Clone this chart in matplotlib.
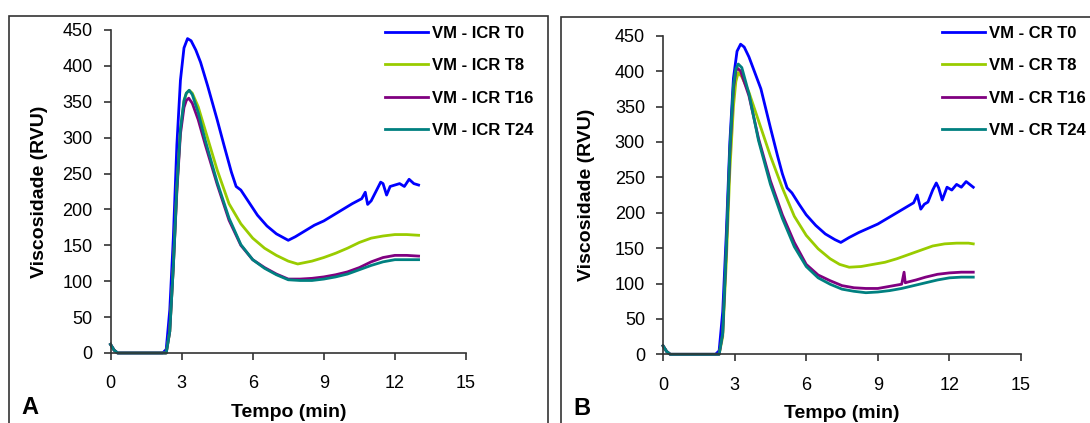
import matplotlib.pyplot as plt
from matplotlib.patches import Rectangle

plt.rcParams['font.family'] = ['Liberation Sans', 'DejaVu Sans']

# tempo (min) e viscosidade (RVU)
# Painel A - ICR
t_a0 = [0, 0.15, 0.3, 2.2, 2.35, 2.5, 2.65, 2.8, 2.95, 3.1, 3.25, 3.4, 3.6, 3.8, 4.1, 4.5, 4.8, 5.1, 5.3, 5.5, 5.8, 6.2, 6.6, 7.0, 7.5, 7.8, 8.2, 8.6, 9.0, 9.4, 9.8, 10.2, 10.6, 10.75, 10.85, 11.0, 11.2, 11.4, 11.5, 11.65, 11.8, 12.0, 12.2, 12.4, 12.6, 12.8, 13.0]
v_a0 = [12, 4, 0, 0, 5, 60, 160, 290, 380, 425, 438, 435, 422, 405, 372, 325, 288, 252, 232, 227, 212, 192, 177, 166, 157, 162, 170, 178, 184, 192, 200, 208, 215, 224, 207, 212, 225, 238, 236, 220, 232, 234, 236, 232, 242, 236, 234]

t_a8 = [0, 0.15, 0.3, 2.35, 2.5, 2.65, 2.8, 2.95, 3.1, 3.2, 3.32, 3.45, 3.7, 4.0, 4.5, 5.0, 5.5, 6.0, 6.5, 7.0, 7.5, 7.9, 8.5, 9.0, 9.5, 10.0, 10.5, 11.0, 11.5, 12.0, 12.5, 13.0]
v_a8 = [12, 4, 0, 0, 30, 120, 230, 310, 350, 362, 366, 362, 343, 310, 255, 208, 180, 160, 146, 136, 128, 124, 128, 133, 139, 146, 154, 160, 163, 165, 165, 164]

t_a16 = [0, 0.15, 0.3, 2.35, 2.5, 2.65, 2.8, 2.95, 3.1, 3.2, 3.3, 3.45, 3.7, 4.0, 4.5, 5.0, 5.5, 6.0, 6.5, 7.0, 7.5, 8.0, 8.5, 9.0, 9.5, 10.0, 10.5, 11.0, 11.5, 12.0, 12.5, 13.0]
v_a16 = [12, 4, 0, 0, 30, 120, 225, 305, 342, 352, 355, 348, 325, 290, 235, 185, 150, 130, 119, 110, 103, 103, 104, 106, 109, 113, 119, 127, 133, 136, 136, 135]

t_a24 = [0, 0.15, 0.3, 2.35, 2.5, 2.65, 2.8, 2.95, 3.1, 3.2, 3.32, 3.45, 3.7, 4.0, 4.5, 5.0, 5.5, 6.0, 6.5, 7.0, 7.5, 8.0, 8.5, 9.0, 9.5, 10.0, 10.5, 11.0, 11.5, 12.0, 12.5, 13.0]
v_a24 = [12, 4, 0, 0, 30, 120, 230, 312, 352, 362, 366, 360, 335, 296, 238, 188, 151, 130, 118, 109, 102, 101, 101, 103, 106, 110, 116, 122, 127, 130, 130, 130]

# Painel B - CR
t_b0 = [0, 0.15, 0.3, 2.2, 2.35, 2.5, 2.65, 2.8, 2.95, 3.1, 3.25, 3.4, 3.6, 3.8, 4.1, 4.5, 4.8, 5.0, 5.2, 5.4, 5.7, 6.0, 6.4, 6.8, 7.2, 7.45, 7.8, 8.2, 8.6, 9.0, 9.4, 9.8, 10.2, 10.5, 10.65, 10.8, 10.95, 11.1, 11.3, 11.45, 11.55, 11.7, 11.9, 12.1, 12.3, 12.5, 12.7, 13.0]
v_b0 = [12, 4, 0, 0, 5, 60, 170, 300, 390, 428, 438, 434, 420, 402, 375, 320, 280, 255, 235, 228, 212, 197, 182, 170, 162, 158, 165, 172, 178, 184, 192, 200, 208, 214, 225, 205, 212, 215, 232, 242, 235, 218, 236, 232, 240, 236, 244, 236]

t_b8 = [0, 0.15, 0.3, 2.35, 2.5, 2.65, 2.8, 2.95, 3.05, 3.15, 3.3, 3.6, 4.0, 4.5, 5.0, 5.5, 6.0, 6.5, 7.0, 7.4, 7.8, 8.3, 8.8, 9.3, 9.8, 10.3, 10.8, 11.3, 11.8, 12.3, 12.8, 13.0]
v_b8 = [12, 4, 0, 0, 25, 130, 260, 350, 385, 398, 392, 370, 330, 280, 235, 195, 168, 149, 135, 127, 123, 124, 127, 130, 135, 141, 147, 153, 156, 157, 157, 156]

t_b16 = [0, 0.15, 0.3, 2.35, 2.5, 2.65, 2.8, 2.95, 3.05, 3.12, 3.25, 3.6, 4.0, 4.5, 5.0, 5.5, 6.0, 6.5, 7.0, 7.5, 8.0, 8.5, 9.0, 9.5, 10.0, 10.1, 10.15, 10.25, 10.6, 11.0, 11.5, 12.0, 12.5, 13.0]
v_b16 = [12, 4, 0, 0, 30, 150, 285, 375, 400, 404, 400, 365, 305, 245, 197, 158, 127, 112, 104, 97, 94, 93, 93, 96, 99, 116, 101, 102, 105, 109, 113, 115, 116, 116]

t_b24 = [0, 0.15, 0.3, 2.35, 2.5, 2.65, 2.8, 2.95, 3.05, 3.15, 3.3, 3.6, 4.0, 4.5, 5.0, 5.5, 6.0, 6.5, 7.0, 7.5, 8.0, 8.5, 9.0, 9.5, 10.0, 10.5, 11.0, 11.5, 12.0, 12.5, 13.0]
v_b24 = [12, 4, 0, 0, 30, 150, 290, 380, 403, 410, 405, 368, 302, 240, 192, 152, 124, 108, 99, 92, 89, 87, 88, 90, 93, 97, 101, 105, 108, 109, 109]

cores = ['#0000FF', '#99CC00', '#800080', '#008080']

paineis = [
    ('A', ['VM - ICR T0', 'VM - ICR T8', 'VM - ICR T16', 'VM - ICR T24'],
     [(t_a0, v_a0), (t_a8, v_a8), (t_a16, v_a16), (t_a24, v_a24)],
     [0.1014, 0.1655, 0.3261, 0.7636], 385),
    ('B', ['VM - CR T0', 'VM - CR T8', 'VM - CR T16', 'VM - CR T24'],
     [(t_b0, v_b0), (t_b8, v_b8), (t_b16, v_b16), (t_b24, v_b24)],
     [0.6083, 0.1624, 0.3284, 0.7532], 942),
]

fig = plt.figure(figsize=(10.9, 4.23), dpi=100)

# molduras dos paineis
fig.patches.append(Rectangle((9 / 1090, -0.05), 539 / 1090, 1.05 - 16 / 423,
                             transform=fig.transFigure, fill=False, ec='#333333', lw=1.2))
fig.patches.append(Rectangle((561 / 1090, -0.05), 540 / 1090, 1.05 - 17 / 423,
                             transform=fig.transFigure, fill=False, ec='#333333', lw=1.2))

for letra, nomes, series, pos, leg_x in paineis:
    ax = fig.add_axes(pos)
    linhas = []
    for (t, v), nome, c in zip(series, nomes, cores):
        ln, = ax.plot(t, v, color=c, lw=2.0, label=nome, clip_on=False)
        linhas.append(ln)
    ax.set_xlim(0, 15)
    ax.set_ylim(0, 450)
    ax.set_xticks([0, 3, 6, 9, 12, 15])
    ax.set_yticks(range(0, 451, 50))
    ax.spines['top'].set_visible(False)
    ax.spines['right'].set_visible(False)
    for s in ['left', 'bottom']:
        ax.spines[s].set_color('#333333')
        ax.spines[s].set_linewidth(1.2)
    ax.tick_params(direction='out', length=5, width=1.2, color='#333333', labelsize=13)
    ax.tick_params(axis='y', pad=8)
    ax.tick_params(axis='x', pad=11)
    ax.set_xlabel('Tempo (min)', fontsize=14, fontweight='bold')
    ax.xaxis.set_label_coords(0.5, -0.158)
    ax.set_ylabel('Viscosidade (RVU)', fontsize=14, fontweight='bold')
    ax.yaxis.set_label_coords(-0.175 if letra == 'A' else -0.19, 0.5)
    fig.legend(handles=linhas, loc='upper left',
               bbox_to_anchor=(leg_x / 1090, 1 - 26 / 423), frameon=False,
               prop={'weight': 'bold', 'size': 12}, handlelength=2.6,
               handletextpad=0.2, labelspacing=1.04, borderpad=0, borderaxespad=0)
    ax.text(-0.25, -0.17, letra, transform=ax.transAxes, fontsize=17,
            fontweight='bold', va='center')

fig.savefig('out.png', dpi=100)
